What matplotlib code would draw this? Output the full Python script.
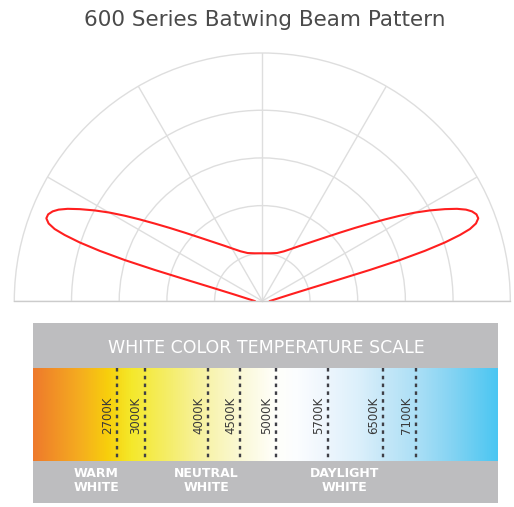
"""
600 系列蝙蝠翼配光曲线 + 白光色温刻度
"""
import numpy as np
import matplotlib.pyplot as plt
from matplotlib.colors import LinearSegmentedColormap
from matplotlib.patches import Rectangle

# 配光曲线 (右半边, 从底边沿下缘到尖端再沿上缘到顶部): 与竖直方向夹角(度), 相对光强
gamma = [90, 80.15, 76.99, 75.2, 74.33, 73.89, 73.42, 72.85, 72.22, 71.53, 70.88, 70.06,
         69.05, 67.97, 66.86, 65.84, 64.66, 63.30, 61.62, 59.93, 58.22, 56.37, 54.27,
         51.74, 48.64, 44.64, 40.02, 34.33, 29.55, 23.59, 17.03, 9.17, 0]
intensity = [16.1, 35.5, 59.6, 103.4, 169.2, 235.0, 301.2, 357.0, 402.2, 437.0, 460.8, 476.6,
             484.9, 484.4, 478.1, 468.1, 451.6, 428.7, 399.6, 369.9, 339.6, 308.9, 278.2,
             247.5, 217.0, 187.1, 162.0, 140.1, 126.3, 113.7, 105.2, 101.3, 100]
rings = [100, 200, 300, 400]
r_outer = 520
spokes = [0, 30, 60, 90, 120, 150, 180]

# 色温刻度
kelvin_labels = ['2700K', '3000K', '4000K', '4500K', '5000K', '5700K', '6500K', '7100K']
kelvin_pos = [83.4, 111.7, 174.4, 206.7, 242.7, 294.4, 350.0, 382.4]
group_labels = ['WARM\nWHITE', 'NEUTRAL\nWHITE', 'DAYLIGHT\nWHITE']
group_pos = [62.7, 173.4, 311.7]

plt.rcParams['font.family'] = ['DejaVu Sans']
fig = plt.figure(figsize=(5.14, 5.07), dpi=100)
W, H = 514, 507

fig.text(265 / W, 1 - 19.5 / H, '600 Series Batwing Beam Pattern',
         ha='center', va='center', fontsize=15.5, color='#4a4a4a')

# 极坐标半圆 (方形轴框, 半圆在框内垂直居中)
ax = fig.add_axes([14.3 / W, (507 - 425) / H, 496 / W, 496 / H], projection='polar')
ax.set_thetamin(0)
ax.set_thetamax(180)
ax.set_rticks(rings)
ax.set_thetagrids(spokes)
ax.set_xticklabels([])
ax.set_yticklabels([])
ax.tick_params(length=0)
ax.grid(color='#dedede', linewidth=1.0)
for name, sp in ax.spines.items():
    sp.set_color('#dedede' if name == 'polar' else '#cccccc')
    sp.set_linewidth(1.0)

g = np.array(gamma)
r = np.array(intensity)
theta = np.concatenate([90 - g, (90 + g[::-1])[1:]])
rr = np.concatenate([r, r[::-1][1:]])
ax.plot(np.deg2rad(theta), rr, color='#ff1f1f', linewidth=1.5)
ax.set_rmax(r_outer)

# 色温刻度条
sx = fig.add_axes([33.3 / W, 3.7 / H, 465 / W, 180 / H])
sx.set_xlim(0, 465)
sx.set_ylim(180, 0)
sx.axis('off')
sx.add_patch(Rectangle((0, 0), 465, 180, color='#bdbdbf', zorder=0))

stops = [(0.0, '#ee7a2c'), (0.1, '#f5ad1f'), (0.16, '#f8cf0c'), (0.21, '#f4e82a'),
         (0.3, '#f5ee70'), (0.37, '#f8f3a8'), (0.45, '#fbf9d8'), (0.52, '#fffffa'),
         (0.57, '#fbfdff'), (0.63, '#eef6fd'), (0.7, '#dcf0fb'), (0.75, '#c8e8f8'),
         (0.82, '#aee0f6'), (0.9, '#86d4f3'), (1.0, '#4bc6f2')]
cmap = LinearSegmentedColormap.from_list('ct', stops)
grad = np.linspace(0, 1, 512).reshape(1, -1)
sx.imshow(grad, cmap=cmap, aspect='auto', extent=(0, 465, 137.4, 45), zorder=1)

sx.text(232.9, 24.5, 'WHITE COLOR TEMPERATURE SCALE', ha='center', va='center',
        fontsize=12.5, color='white')
sx.vlines(kelvin_pos, 45, 137.4, colors='#3f3f46', linewidth=1.7,
          linestyles=(0, (1.5, 1.8)), zorder=2)
for lab, x in zip(kelvin_labels, kelvin_pos):
    sx.text(x - 9.3, 91.7, lab, rotation=90, ha='center', va='center',
            fontsize=8.5, color='#3a3a3a', zorder=3)
for lab, x in zip(group_labels, group_pos):
    sx.text(x, 157.2, lab, ha='center', va='center', fontsize=9, color='white',
            fontweight='bold', linespacing=1.15)

fig.savefig('out.png', dpi=100)
